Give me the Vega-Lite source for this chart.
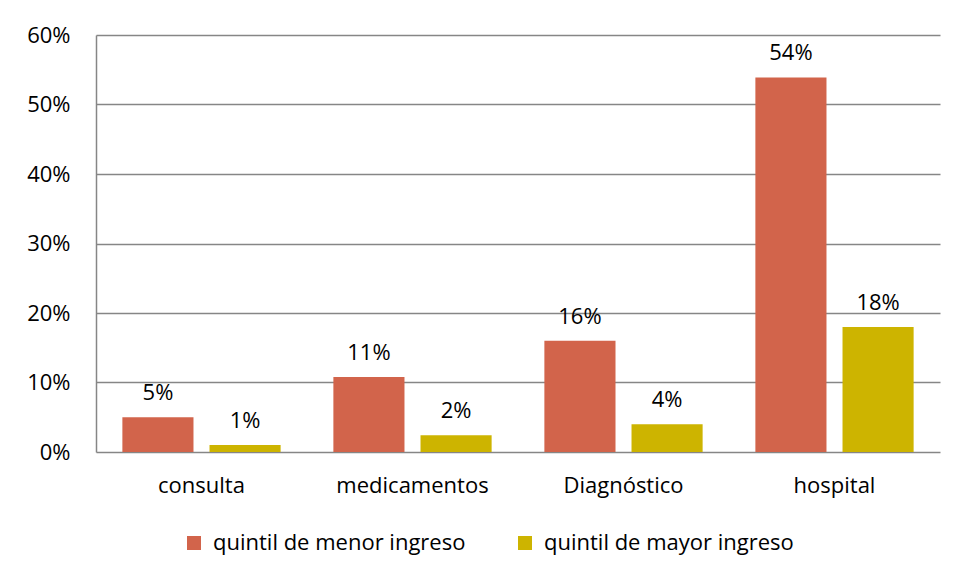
{
  "$schema": "https://vega.github.io/schema/vega-lite/v6.json",
  "width": 844,
  "height": 417,
  "autosize": {"type": "none"},
  "padding": {"left": 96, "top": 35, "right": 18, "bottom": 128},
  "background": "white",
  "data": {"values": [
    {"categoria": "consulta", "grupo": "quintil de menor ingreso", "valor": 0.050},
    {"categoria": "consulta", "grupo": "quintil de mayor ingreso", "valor": 0.010},
    {"categoria": "medicamentos", "grupo": "quintil de menor ingreso", "valor": 0.108},
    {"categoria": "medicamentos", "grupo": "quintil de mayor ingreso", "valor": 0.024},
    {"categoria": "Diagnóstico", "grupo": "quintil de menor ingreso", "valor": 0.160},
    {"categoria": "Diagnóstico", "grupo": "quintil de mayor ingreso", "valor": 0.040},
    {"categoria": "hospital", "grupo": "quintil de menor ingreso", "valor": 0.539},
    {"categoria": "hospital", "grupo": "quintil de mayor ingreso", "valor": 0.180}
  ]},
  "encoding": {
    "x": {
      "field": "categoria", "type": "nominal",
      "sort": ["consulta", "medicamentos", "Diagnóstico", "hospital"],
      "scale": {"paddingInner": 0.25, "paddingOuter": 0.125},
      "axis": {"title": null, "labelAngle": 0, "ticks": false, "domain": false, "labelPadding": 23, "labelFontSize": 22, "labelColor": "#000000"}
    },
    "xOffset": {
      "field": "grupo", "type": "nominal",
      "sort": ["quintil de menor ingreso", "quintil de mayor ingreso"],
      "scale": {"paddingInner": 0.184, "paddingOuter": 0}
    },
    "y": {
      "field": "valor", "type": "quantitative",
      "scale": {"domain": [0, 0.6], "nice": false},
      "axis": {"title": null, "format": ".0%", "values": [0, 0.1, 0.2, 0.3, 0.4, 0.5, 0.6], "ticks": false, "labelPadding": 26, "labelFontSize": 22, "labelColor": "#000000", "domainColor": "#868686", "domainWidth": 1.5, "gridColor": "#868686", "gridWidth": 1.5}
    }
  },
  "layer": [
    {
      "mark": {"type": "bar"},
      "encoding": {
        "color": {
          "field": "grupo", "type": "nominal",
          "sort": ["quintil de menor ingreso", "quintil de mayor ingreso"],
          "scale": {"domain": ["quintil de menor ingreso", "quintil de mayor ingreso"], "range": ["#D2644B", "#CDB400"]},
          "legend": {
            "title": null, "orient": "none", "direction": "horizontal",
            "legendX": 87, "legendY": 497,
            "symbolType": "square", "symbolSize": 196, "symbolStrokeWidth": 0,
            "labelFontSize": 22, "labelColor": "#000000", "labelOffset": 8, "labelLimit": 400,
            "columnPadding": 48
          }
        }
      }
    },
    {
      "mark": {"type": "text", "baseline": "alphabetic", "dy": -17, "fontSize": 22, "color": "#000000"},
      "encoding": {
        "text": {"field": "valor", "type": "quantitative", "format": ".0%"}
      }
    }
  ],
  "config": {
    "font": "Open Sans",
    "view": {"stroke": null},
    "axis": {"labelFont": "Open Sans"},
    "legend": {"labelFont": "Open Sans"}
  }
}
